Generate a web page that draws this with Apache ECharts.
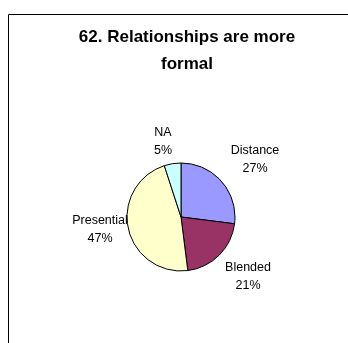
<!DOCTYPE html>
<html><head><meta charset="utf-8">
<script src="https://cdn.jsdelivr.net/npm/echarts@6/dist/echarts.min.js"></script>
<style>html,body{margin:0;padding:0;background:#fff}#c{width:348px;height:343px}</style>
</head><body><div id="c"></div>
<script>
const title = "62. Relationships are more\nformal";
const categories = ["Distance", "Blended", "Presential", "NA"];
const values = [27, 21, 47, 5];
const colors = ["#9999FF", "#993366", "#FFFFCC", "#CCFFFF"];
// label anchor positions (layout only)
const labelPos = [[255, 160], [248, 277], [100, 230], [163, 142]];

const chart = echarts.init(document.getElementById('c'), null, {renderer: 'canvas'});
chart.setOption({
  backgroundColor: '#fff',
  animation: false,
  graphic: [{
    type: 'rect', shape: {x: 8.5, y: 14.5, width: 400, height: 400},
    style: {fill: 'none', stroke: '#000', lineWidth: 1}, silent: true
  }],
  title: {
    text: title, left: 182, top: 19, textAlign: 'center',
    textStyle: {fontFamily: 'Liberation Sans, Arial', fontWeight: 'bold', fontSize: 17, lineHeight: 27, color: '#000'}
  },
  series: [{
    type: 'pie', center: [181, 217], radius: 54, startAngle: 90, clockwise: true,
    data: categories.map((n, i) => ({name: n, value: values[i], itemStyle: {color: colors[i]}})),
    itemStyle: {borderColor: '#000', borderWidth: 1},
    label: {
      show: true, position: 'outside', formatter: '{b}\n{d}%',
      fontFamily: 'Liberation Sans, Arial', fontSize: 12.5, lineHeight: 18, color: '#000', align: 'center'
    },
    labelLine: {show: false},
    labelLayout: function (p) {
      const q = labelPos[p.dataIndex];
      return {x: q[0], y: q[1], align: 'center', verticalAlign: 'middle'};
    }
  }]
});
</script></body></html>
